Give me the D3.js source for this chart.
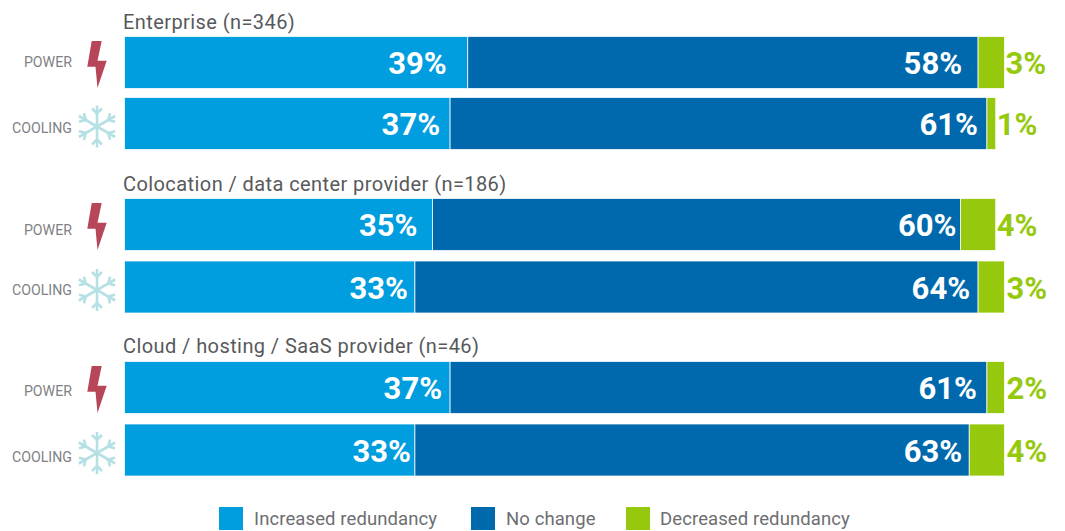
<!DOCTYPE html>
<html lang="en">
<head>
<meta charset="utf-8">
<title>Redundancy by provider type</title>
<script src="https://d3js.org/d3.v7.min.js"></script>
<style type="text/css">
body { margin: 0; background: #fff; }
svg { display: block; font-family: Roboto, sans-serif; }
</style>
</head>
<body>
<script type="text/javascript">

// data
var groups = ["Enterprise (n=346)", "Colocation / data center provider (n=186)", "Cloud / hosting / SaaS provider (n=46)"];
var rows = ["POWER", "COOLING", "POWER", "COOLING", "POWER", "COOLING"];
var series = ["Increased redundancy", "No change", "Decreased redundancy"];
var increased = [39, 37, 35, 33, 37, 33];
var noChange = [58, 61, 60, 64, 61, 63];
var decreased = [3, 1, 4, 3, 2, 4];

var colors = ["#009ddf", "#0069ad", "#96c90e"];

var w = 1065;
var h = 531;

// layout, rows are not quite evenly spaced in the original
var rowTops = [36.5, 97.5, 198.5, 261, 361.5, 424];
var rowLabelY = [67, 133, 235, 295, 396, 462];
var groupTitleY = [29, 191, 353];
var barHeight = 52;

// how far the % labels sit from the end of their segment
var nudgeA = [21, 10, 15, 7, 8, 4];
var nudgeB = [16, 9, 4, 8, 10, 7];
var nudgeC = [1, 1, 1, 2, 2, 2];

var xScale = d3.scaleLinear().domain([0, 100]).range([124.5, 1004.5]);
var yScale = d3.scaleOrdinal().domain(d3.range(rows.length)).range(rowTops);

var svg = d3.select("body")
    .append("svg")
    .attr("width", w)
    .attr("height", h);

// group titles
svg.selectAll("text.group")
    .data(groups)
    .enter()
    .append("text")
    .attr("class", "group")
    .attr("x", 123)
    .attr("y", function(d, i) { return groupTitleY[i]; })
    .attr("font-size", 20)
    .attr("letter-spacing", 0.42)
    .attr("fill", "#58595b")
    .text(function(d) { return d; });

// stacked bars
var table = rows.map(function(r, i) {
    return { row: i, a: increased[i], b: noChange[i], c: decreased[i] };
});
var stacked = d3.stack().keys(["a", "b", "c"])(table);

var layers = svg.selectAll("g.layer")
    .data(stacked)
    .enter()
    .append("g")
    .attr("class", "layer")
    .attr("fill", function(d, i) { return colors[i]; });

layers.selectAll("rect")
    .data(function(d) { return d; })
    .enter()
    .append("rect")
    .attr("x", function(d) { return xScale(d[0]); })
    .attr("y", function(d) { return yScale(d.data.row); })
    .attr("width", function(d) { return xScale(d[1]) - xScale(d[0]); })
    .attr("height", barHeight)
    .attr("stroke", "#fff")
    .attr("stroke-opacity", 0.75)
    .attr("stroke-width", 1);

// % labels
var nudges = [nudgeA, nudgeB, nudgeC];
layers.each(function(layer, k) {
    d3.select(this).selectAll("text")
        .data(layer)
        .enter()
        .append("text")
        .attr("x", function(d, i) {
            if (k === 2) return xScale(d[1]) + nudges[k][i];
            return xScale(d[1]) - nudges[k][i];
        })
        .attr("y", function(d) { return yScale(d.data.row) + barHeight / 2 + 11.5; })
        .attr("text-anchor", k === 2 ? "start" : "end")
        .attr("font-size", 31)
        .attr("font-weight", 700)
        .attr("fill", k === 2 ? colors[2] : "#fff")
        .text(function(d) { return (d[1] - d[0]) + "%"; });
});

// row labels
svg.selectAll("text.row")
    .data(rows)
    .enter()
    .append("text")
    .attr("class", "row")
    .attr("x", 72)
    .attr("y", function(d, i) { return rowLabelY[i]; })
    .attr("text-anchor", "end")
    .attr("font-size", 14.2)
    .attr("fill", "#808285")
    .text(function(d) { return d; });

// icons
var bolt = "M-5.3,-21 L4.7,-21 L0.5,-1.3 L9.7,-1.3 L0.5,26 L-1.5,4.7 L-9.7,4.7 Z";

function snowflake(g) {
    d3.range(6).forEach(function(n) {
        var arm = g.append("g")
            .attr("transform", "rotate(" + (n * 60) + ")")
            .attr("fill", "none")
            .attr("stroke", "#b5e0e4")
            .attr("stroke-width", 2.6);
        arm.append("path").attr("d", "M0,0 L0,-21");
        arm.append("path").attr("d", "M-5,-18 L0,-13 L5,-18");
    });
}

rows.forEach(function(r, i) {
    var g = svg.append("g");
    if (r === "POWER") {
        g.attr("transform", "translate(97," + (yScale(i) + 25.5) + ")");
        g.append("path").attr("d", bolt).attr("fill", "#b84659");
    } else {
        g.attr("transform", "translate(97," + (yScale(i) + 29) + ")");
        snowflake(g);
    }
});

// legend
var legendX = [219, 471, 626];
var legend = svg.selectAll("g.legend")
    .data(series)
    .enter()
    .append("g")
    .attr("class", "legend")
    .attr("transform", function(d, i) { return "translate(" + legendX[i] + ",507)"; });

legend.append("rect")
    .attr("width", 24)
    .attr("height", 23)
    .attr("fill", function(d, i) { return colors[i]; });

legend.append("text")
    .attr("x", function(d, i) { return i === 2 ? 34 : 35; })
    .attr("y", 18)
    .attr("font-size", 18.5)
    .attr("letter-spacing", 0.1)
    .attr("fill", "#6d6e71")
    .text(function(d) { return d; });

</script>
</body>
</html>
